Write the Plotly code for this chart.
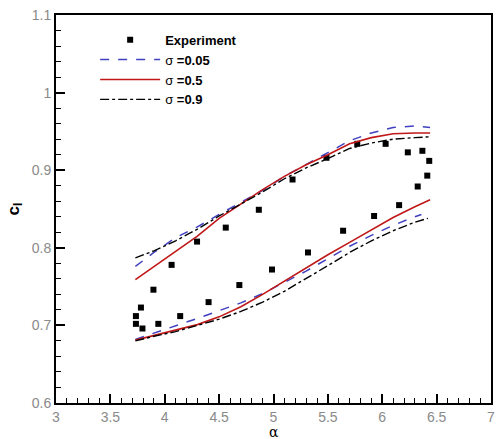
import plotly.graph_objects as go

# Experiment data (alpha, cl)
exp_alpha = [3.735, 3.735, 3.781, 3.795, 3.896, 3.941, 4.063, 4.142, 4.297, 4.403,
             4.561, 4.686, 4.865, 4.986, 5.175, 5.317, 5.487, 5.640, 5.770, 5.925,
             6.031, 6.155, 6.235, 6.369, 6.326, 6.414, 6.432]
exp_cl = [0.712, 0.702, 0.723, 0.696, 0.746, 0.702, 0.778, 0.712, 0.808, 0.730,
          0.826, 0.752, 0.849, 0.772, 0.888, 0.794, 0.916, 0.822, 0.934, 0.841,
          0.934, 0.855, 0.923, 0.925, 0.879, 0.893, 0.912]

# Computed curves: upper branch and lower branch
up_alpha = [3.73, 3.9, 4.1, 4.3, 4.5, 4.7, 4.9, 5.1, 5.3, 5.5, 5.7, 5.9, 6.1, 6.3, 6.44]
s005_up = [0.776, 0.794, 0.813, 0.827, 0.843, 0.858, 0.874, 0.892, 0.907, 0.922, 0.938, 0.948, 0.955, 0.957, 0.955]
s05_up = [0.759, 0.776, 0.795, 0.815, 0.838, 0.857, 0.875, 0.892, 0.907, 0.920, 0.934, 0.942, 0.947, 0.948, 0.948]
s09_up = [0.787, 0.796, 0.809, 0.824, 0.841, 0.856, 0.872, 0.889, 0.903, 0.915, 0.928, 0.935, 0.940, 0.942, 0.943]

s005_lo_alpha = [3.73, 3.9, 4.1, 4.3, 4.5, 4.7, 4.9, 5.1, 5.3, 5.5, 5.7, 5.9, 6.1, 6.3, 6.36]
s005_lo = [0.682, 0.690, 0.699, 0.709, 0.719, 0.729, 0.741, 0.755, 0.770, 0.786, 0.802, 0.816, 0.829, 0.840, 0.843]
s05_lo_alpha = [3.73, 3.9, 4.1, 4.3, 4.5, 4.7, 4.9, 5.1, 5.3, 5.5, 5.7, 5.9, 6.1, 6.3, 6.44]
s05_lo = [0.681, 0.687, 0.694, 0.701, 0.711, 0.724, 0.740, 0.757, 0.775, 0.791, 0.807, 0.823, 0.839, 0.853, 0.862]
s09_lo_alpha = [3.73, 3.9, 4.1, 4.3, 4.5, 4.7, 4.9, 5.1, 5.3, 5.5, 5.7, 5.9, 6.1, 6.3, 6.42]
s09_lo = [0.680, 0.686, 0.692, 0.700, 0.708, 0.718, 0.730, 0.744, 0.760, 0.777, 0.794, 0.809, 0.822, 0.833, 0.838]

x_ticks = [3, 3.5, 4, 4.5, 5, 5.5, 6, 6.5, 7]
y_ticks = [0.6, 0.7, 0.8, 0.9, 1, 1.1]
x_title = "α"
y_title = "<b>c<sub>l</sub></b>"


def join(xa, ya, xb, yb):
    return list(xa) + [None] + list(xb), list(ya) + [None] + list(yb)


fig = go.Figure()
fig.add_trace(go.Scatter(x=exp_alpha, y=exp_cl, mode="markers", name="<b>Experiment</b>",
                         marker=dict(symbol="square", size=6, color="black")))
x, y = join(up_alpha, s005_up, s005_lo_alpha, s005_lo)
fig.add_trace(go.Scatter(x=x, y=y, mode="lines", name="σ <b>=0.05</b>",
                         line=dict(color="#4040c0", width=1.5, dash="dash")))
x, y = join(up_alpha, s05_up, s05_lo_alpha, s05_lo)
fig.add_trace(go.Scatter(x=x, y=y, mode="lines", name="σ <b>=0.5</b>",
                         line=dict(color="#c01818", width=1.6)))
x, y = join(up_alpha, s09_up, s09_lo_alpha, s09_lo)
fig.add_trace(go.Scatter(x=x, y=y, mode="lines", name="σ <b>=0.9</b>",
                         line=dict(color="black", width=1.4, dash="dashdot")))

axis_common = dict(
    showgrid=False, zeroline=False, showline=True, linecolor="black", linewidth=2,
    mirror=True, ticks="inside", ticklen=9, tickwidth=2, tickcolor="black",
    tickfont=dict(family="Arial, Liberation Sans", size=14, color="#8a8a8a"),
)

fig.update_xaxes(range=[3, 7], tickvals=x_ticks, ticktext=[str(v) for v in x_ticks],
                 minor=dict(dtick=0.1, ticks="inside", ticklen=5, tickwidth=1, tickcolor="black"),
                 **axis_common)
fig.update_yaxes(range=[0.6, 1.1], tickvals=y_ticks, ticktext=["0.6", "0.7", "0.8", "0.9", "1", "1.1"],
                 minor=dict(dtick=0.02, ticks="inside", ticklen=5, tickwidth=1, tickcolor="black"),
                 title=dict(text=y_title, font=dict(family="Arial, Liberation Sans", size=17, color="black"),
                            standoff=8),
                 **axis_common)

fig.add_annotation(text=x_title, xref="paper", yref="paper", x=0.5, y=-0.052,
                   xanchor="center", yanchor="top", showarrow=False, borderpad=0,
                   font=dict(family="DejaVu Serif, serif", size=14, color="black"))

fig.update_layout(
    width=498, height=439,
    margin=dict(l=56, r=3, t=15, b=36),
    paper_bgcolor="white", plot_bgcolor="white",
    showlegend=True,
    legend=dict(x=0.09, y=0.975, xanchor="left", yanchor="top",
                bgcolor="rgba(0,0,0,0)", borderwidth=0,
                font=dict(family="Arial, Liberation Sans", size=13, color="black"),
                tracegroupgap=0, itemwidth=60),
)

fig.write_html("out.html")
